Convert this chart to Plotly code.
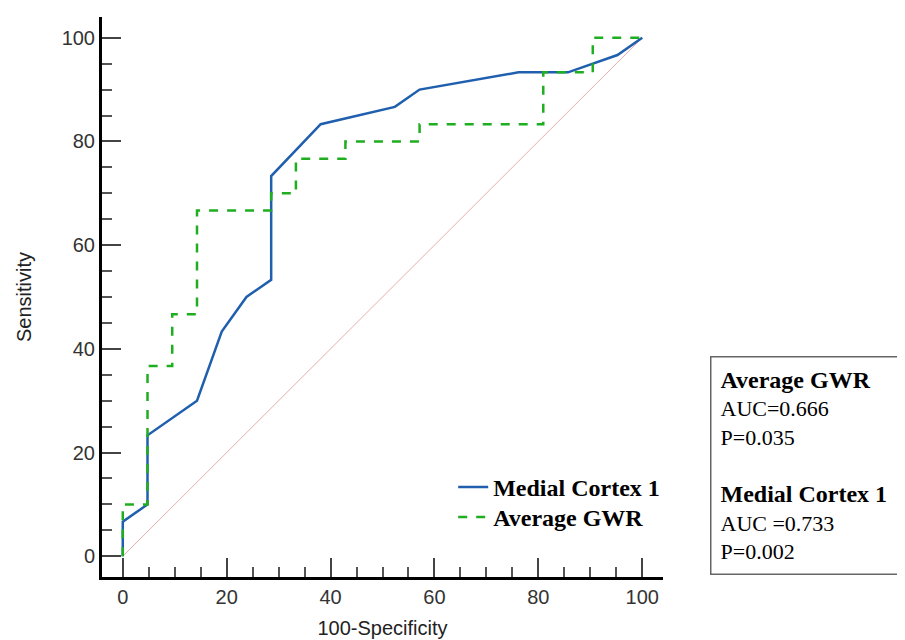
import plotly.graph_objects as go

# Medial Cortex 1 ROC points (100-Specificity, Sensitivity)
mc_x = [0, 0, 4.76, 4.76, 14.29, 19.05, 23.81, 28.57, 28.57, 38.10, 52.38, 57.14, 76.19, 85.71, 95.24, 100]
mc_y = [0, 6.67, 10.0, 23.33, 30.0, 43.33, 50.0, 53.33, 73.33, 83.33, 86.67, 90.0, 93.33, 93.33, 96.67, 100]

# Average GWR ROC (step curve)
gwr_x = [0, 0, 4.76, 4.76, 9.52, 9.52, 14.29, 14.29, 28.57, 28.57, 33.33, 33.33, 42.86, 42.86,
         57.14, 57.14, 80.95, 80.95, 90.48, 90.48, 100]
gwr_y = [0, 10.0, 10.0, 36.67, 36.67, 46.67, 46.67, 66.67, 66.67, 70.0, 70.0, 76.67, 76.67, 80.0,
         80.0, 83.33, 83.33, 93.33, 93.33, 100, 100]

diag_x = [0, 100]
diag_y = [0, 100]

tick_vals = [0, 20, 40, 60, 80, 100]

fig = go.Figure()
fig.add_trace(go.Scatter(x=diag_x, y=diag_y, mode="lines",
                         line=dict(color="#e6aeae", width=1), showlegend=False, hoverinfo="skip"))
fig.add_trace(go.Scatter(x=mc_x, y=mc_y, mode="lines", name="Medial Cortex 1",
                         line=dict(color="#1f5fae", width=2.5), legend="legend"))
fig.add_trace(go.Scatter(x=gwr_x, y=gwr_y, mode="lines", name="Average GWR",
                         line=dict(color="#1fae1f", width=2.5, dash="dash"), legend="legend2"))

axis_common = dict(
    showgrid=False, zeroline=False, showline=True, linecolor="black", linewidth=3,
    ticks="inside", ticklen=19, tickwidth=2, tickcolor="#444",
    tickvals=tick_vals, automargin=False,
    tickfont=dict(family="Liberation Sans, Arial", size=20, color="#333"),
    minor=dict(dtick=5, tick0=0, ticks="inside", ticklen=10, tickwidth=1.5, tickcolor="#555"),
    mirror=False,
)

fig.update_xaxes(range=[-4, 104], title=dict(text="100-Specificity", standoff=14,
                 font=dict(family="Liberation Sans, Arial", size=20, color="#222")), **axis_common)
fig.update_yaxes(range=[-4, 104], title=dict(text="Sensitivity", standoff=25,
                 font=dict(family="Liberation Sans, Arial", size=20, color="#222")), **axis_common)

fig.add_annotation(
    xref="paper", yref="paper", x=1.084, y=0.395, xanchor="left", yanchor="top",
    text=("<span style='font-size:24px'><b>Average GWR</b></span><br>AUC=0.666<br>P=0.035<br> <br>"
          "<span style='font-size:24px'><b>Medial Cortex 1</b></span><br>AUC =0.733<br>P=0.002"),
    align="left", showarrow=False,
    font=dict(family="Liberation Serif, Times New Roman", size=22, color="black"),
    bordercolor="#666", borderwidth=1.5, borderpad=9, width=172,
)

legend_font = dict(family="Liberation Serif, Times New Roman", size=24, color="black", weight="bold")

fig.update_layout(
    width=905, height=640,
    margin=dict(l=94, r=250, t=9, b=71),
    paper_bgcolor="white", plot_bgcolor="white",
    legend=dict(x=0.626, y=0.2, xanchor="left", yanchor="top",
                font=legend_font, bgcolor="rgba(0,0,0,0)"),
    legend2=dict(x=0.626, y=0.1464, xanchor="left", yanchor="top",
                 font=legend_font, bgcolor="rgba(0,0,0,0)"),
)

fig.write_html("out.html")
